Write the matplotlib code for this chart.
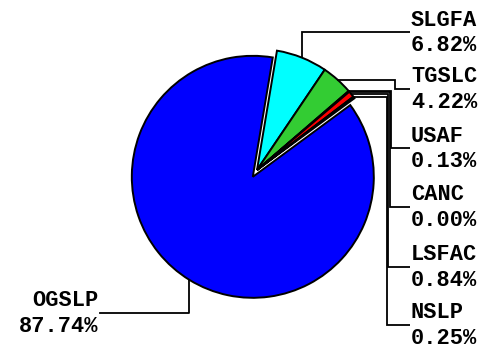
import numpy as np
import matplotlib
matplotlib.use('Agg')
import matplotlib.pyplot as plt

# donnees
noms = ['SLGFA', 'TGSLC', 'USAF', 'CANC', 'LSFAC', 'NSLP', 'OGSLP']
valeurs = [6.82, 4.22, 0.13, 0.00, 0.84, 0.25, 87.74]
couleurs = ['#00FFFF', '#33CC33', '#800080', '#FFFF00', '#FF0000', '#009900', '#0000FF']

W, H = 498, 348
fig = plt.figure(figsize=(W / 100, H / 100), dpi=100)
ax = fig.add_axes([0, 0, 1, 1])

# explode en unites de donnees (pixels ici)
explode = [0, 0, 0, 0, 0, 0, 8]
wedges, _ = ax.pie(valeurs, colors=couleurs, startangle=80.5, counterclock=False,
                   center=(257, H - 170), radius=121, explode=explode,
                   wedgeprops=dict(edgecolor='black', linewidth=1.4))

ax.set_xlim(0, W)
ax.set_ylim(0, H)
ax.set_aspect('equal')
ax.axis('off')

police = dict(family='Liberation Mono', fontweight='bold', fontsize=15.8, color='black')

# lignes de rappel a droite (y image de la ligne, x du coude)
y_lignes = [32, 89, 148, 207, 267, 325]
x_coudes = [None, 395, 391, 390, 388, 387]
x_texte = 411

for i in range(6):
    w = wedges[i]
    a = np.deg2rad((w.theta1 + w.theta2) / 2)
    cx, cy = w.center
    ax_, ay_ = cx + w.r * np.cos(a), cy + w.r * np.sin(a)
    yl = H - y_lignes[i]
    xb = ax_ if x_coudes[i] is None else x_coudes[i]
    ax.plot([ax_, xb, xb, x_texte - 1], [ay_, ay_, yl, yl], color='black', lw=1.3,
            solid_capstyle='butt', solid_joinstyle='miter')
    ax.text(x_texte, yl + 12, noms[i], ha='left', va='center', **police)
    ax.text(x_texte, yl - 13.5, '%.2f%%' % valeurs[i], ha='left', va='center', **police)

# OGSLP a gauche
w = wedges[6]
a = np.deg2rad((w.theta1 + w.theta2) / 2)
cx, cy = w.center
ax_, ay_ = cx + w.r * np.cos(a), cy + w.r * np.sin(a)
yl = H - 313
ax.plot([ax_, ax_, 100], [ay_, yl, yl], color='black', lw=1.3)
ax.text(98, yl + 12, noms[6], ha='right', va='center', **police)
ax.text(98, yl - 13.5, '%.2f%%' % valeurs[6], ha='right', va='center', **police)

fig.savefig('out.png', dpi=100)
